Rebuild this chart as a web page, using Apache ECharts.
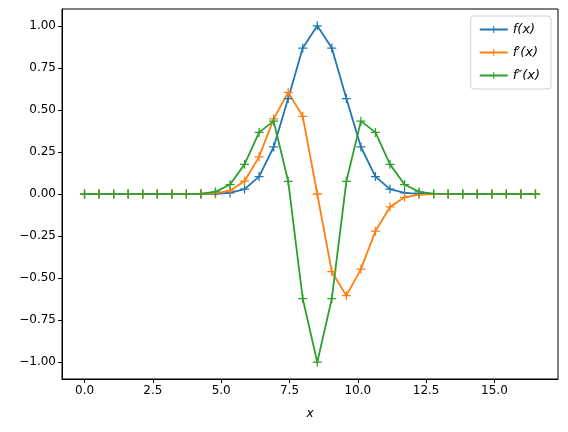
<!DOCTYPE html>
<html>
<head>
    <meta charset="utf-8">
    <title>f, f', f''</title>
    <script src="https://cdn.jsdelivr.net/npm/echarts@6.0.0/dist/echarts.min.js"></script>
    <style>
        html, body { margin: 0; padding: 0; background: #fff; }
        #chart { width: 568px; height: 432px; }
    </style>
</head>
<body>
<div id="chart"></div>

<script>
    // sample positions along x
    const xs = [0, 0.532, 1.065, 1.597, 2.129, 2.661, 3.194, 3.726, 4.258, 4.790,
        5.323, 5.855, 6.387, 6.919, 7.452, 7.984, 8.516, 9.048, 9.581, 10.113,
        10.645, 11.177, 11.710, 12.242, 12.774, 13.306, 13.839, 14.371, 14.903, 15.435,
        15.968, 16.5];

    const fVals = [0, 0, 0, 0, 0, 0, 0, 0.0000, 0.0001, 0.0010,
        0.0061, 0.0290, 0.1037, 0.2795, 0.5675, 0.8679, 1.0000, 0.8679, 0.5675, 0.2795,
        0.1037, 0.0290, 0.0061, 0.0010, 0.0001, 0.0000, 0, 0, 0, 0,
        0, 0];

    const d1Vals = [0, 0, 0, 0, 0, 0, 0, 0.0001, 0.0005, 0.0036,
        0.0195, 0.0771, 0.2208, 0.4463, 0.6041, 0.4619, 0, -0.4619, -0.6041, -0.4463,
        -0.2208, -0.0771, -0.0195, -0.0036, -0.0005, -0.0001, 0, 0, 0, 0,
        0, 0];

    const d2Vals = [0, 0, 0, 0, 0, 0, 0, 0.0002, 0.0020, 0.0125,
        0.0561, 0.1763, 0.3663, 0.4331, 0.0756, -0.6220, -1.0000, -0.6220, 0.0756, 0.4331,
        0.3663, 0.1763, 0.0561, 0.0125, 0.0020, 0.0002, 0, 0, 0, 0,
        0, 0];

    const seriesNames = ['f(x)', 'f\u2032(x)', 'f\u2033(x)'];
    const colors = ['#1f77b4', '#ff7f0e', '#2ca02c'];
    const xTicks = [0, 2.5, 5, 7.5, 10, 12.5, 15];
    const yTicks = [-1, -0.75, -0.5, -0.25, 0, 0.25, 0.5, 0.75, 1];

    // "+" marker built from two thin bars
    const plus = 'path://M0,4.3H10V5.7H0Z M4.3,0H5.7V10H4.3Z';
    const font = 'DejaVu Sans';

    function fmt(v, n) {
        return v < 0 ? '\u2212' + Math.abs(v).toFixed(n) : v.toFixed(n);
    }

    function makeSeries(name, vals, color) {
        return {
            name: name,
            type: 'line',
            data: xs.map((x, i) => [x, vals[i]]),
            symbol: plus,
            symbolSize: 9,
            showSymbol: true,
            color: color,
            itemStyle: { color: color },
            lineStyle: { width: 1.8, color: color },
            emphasis: { disabled: true }
        };
    }

    const chart = echarts.init(document.getElementById('chart'));
    chart.setOption({
        animation: false,
        textStyle: { fontFamily: font },
        grid: {
            left: 62, right: 10, top: 9, bottom: 53,
            show: true, borderColor: '#000', borderWidth: 1
        },
        legend: {
            orient: 'vertical',
            right: 17, top: 16,
            padding: [7, 11, 7, 8],
            itemGap: 10,
            itemWidth: 28, itemHeight: 9,
            backgroundColor: '#fff',
            borderColor: '#d0d0d0', borderWidth: 1, borderRadius: 3,
            textStyle: { fontFamily: font, fontSize: 13, fontStyle: 'italic', color: '#000' },
            data: seriesNames
        },
        xAxis: {
            type: 'value',
            min: -0.825, max: 17.325,
            name: 'x',
            nameLocation: 'middle',
            nameGap: 29,
            nameTextStyle: { fontFamily: font, fontSize: 12, fontStyle: 'italic', color: '#000' },
            axisLine: { show: true, onZero: false, lineStyle: { color: '#000', width: 1 } },
            axisTick: { show: true, length: 4, customValues: xTicks, lineStyle: { color: '#000' } },
            axisLabel: {
                customValues: xTicks, color: '#000', fontSize: 12, margin: 6,
                formatter: v => fmt(v, 1)
            },
            splitLine: { show: false }
        },
        yAxis: {
            type: 'value',
            min: -1.1, max: 1.1,
            axisLine: { show: true, onZero: false, lineStyle: { color: '#000', width: 1 } },
            axisTick: { show: true, length: 4, customValues: yTicks, lineStyle: { color: '#000' } },
            axisLabel: {
                customValues: yTicks, color: '#000', fontSize: 12, margin: 6,
                formatter: v => fmt(v, 2)
            },
            splitLine: { show: false }
        },
        series: [
            makeSeries(seriesNames[0], fVals, colors[0]),
            makeSeries(seriesNames[1], d1Vals, colors[1]),
            makeSeries(seriesNames[2], d2Vals, colors[2])
        ]
    });
</script>
</body>
</html>
